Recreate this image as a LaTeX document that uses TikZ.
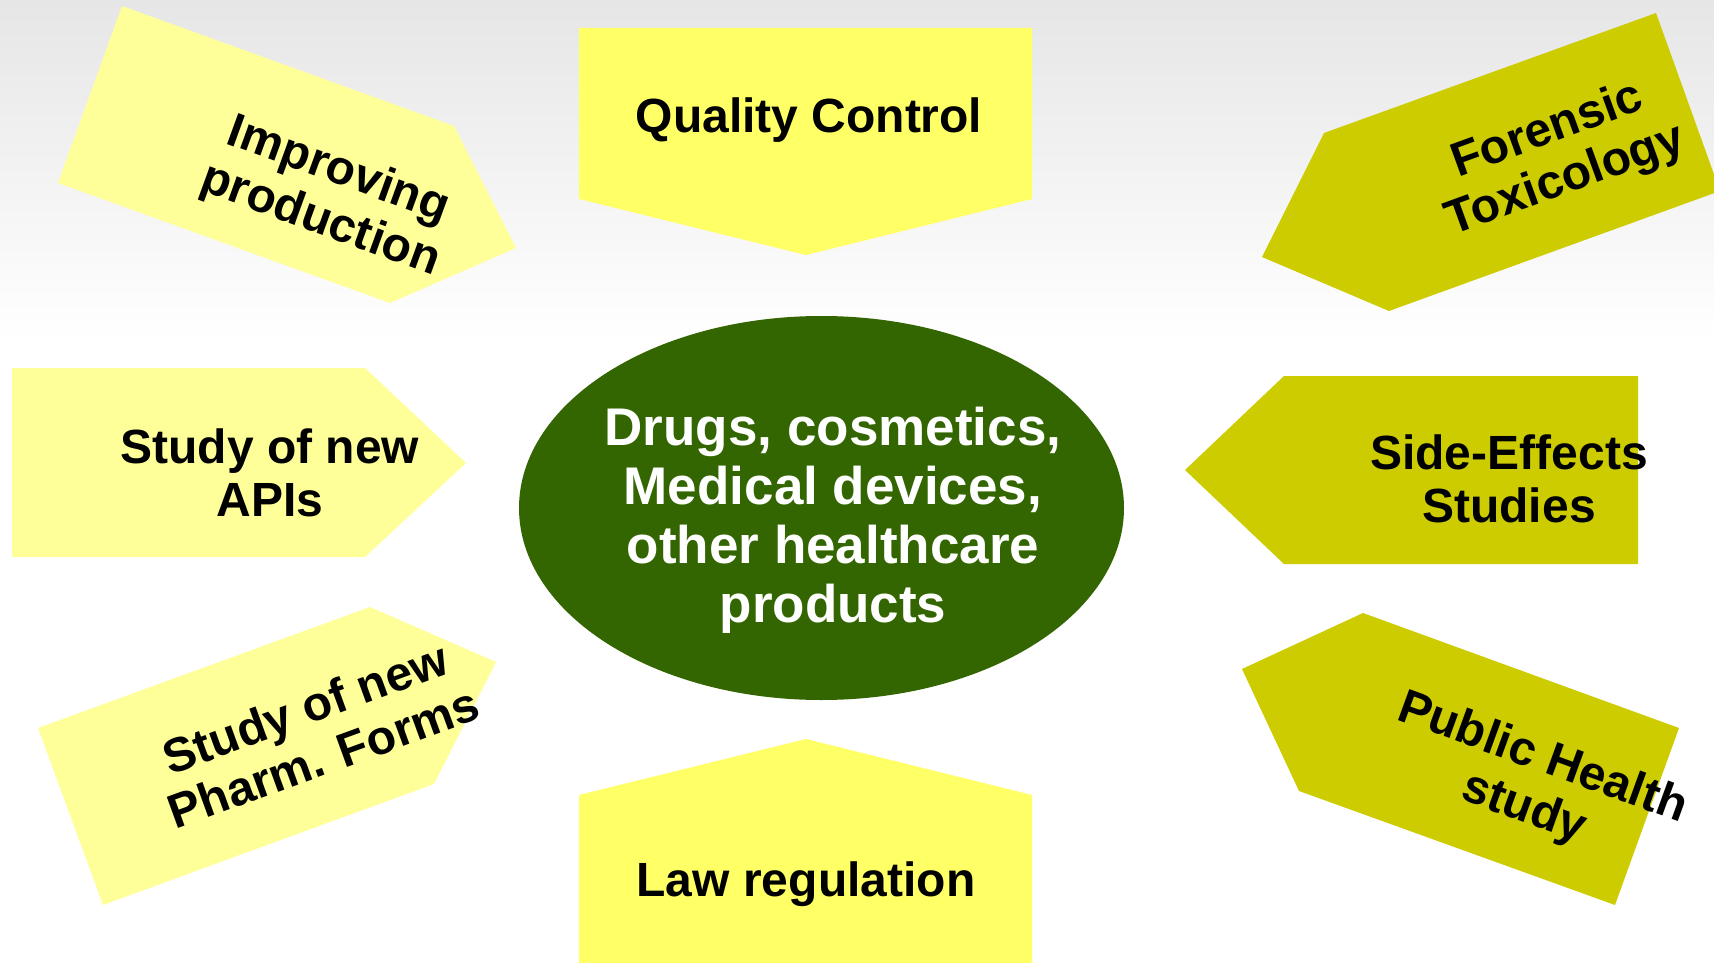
\documentclass[tikz,border=0pt]{standalone}
\usepackage{fontspec}
\setmainfont{Liberation Sans}
\definecolor{paleyel}{HTML}{FFFF99}
\definecolor{brightyel}{HTML}{FFFF66}
\definecolor{oliveyel}{HTML}{CCCC00}
\definecolor{coregreen}{HTML}{336600}
\definecolor{bgtop}{HTML}{E6E6E6}
\newcommand{\stk}[1]{\begin{tabular}[t]{@{}c@{}}#1\end{tabular}}
\begin{document}
\begin{tikzpicture}[x=1pt,y=-1pt,
  lbl/.style={anchor=base, inner sep=0pt, text=black, font=\bfseries\fontsize{48}{53}\selectfont},
  corelbl/.style={anchor=base, inner sep=0pt, text=white, font=\bfseries\fontsize{53}{59}\selectfont},
  pale/.style={fill=paleyel},
  bright/.style={fill=brightyel},
  olv/.style={fill=oliveyel}]
\clip (0,0) rectangle (1714,963);
\fill[white] (0,0) rectangle (1714,963);
\shade[top color=bgtop, bottom color=white] (0,0) rectangle (1714,340);
% left shapes
\fill[pale] (122,6) -- (454,126) -- (516,248) -- (390,303) -- (58,183) -- cycle;
\fill[pale] (12,368) -- (365,368) -- (466,463) -- (365,557) -- (12,557) -- cycle;
\fill[pale] (38,728) -- (370,607) -- (496,662) -- (434,784) -- (103,905) -- cycle;
% top and bottom
\fill[bright] (579,28) -- (1032,28) -- (1032,199) -- (806,255) -- (579,199) -- cycle;
\fill[bright] (579,795) -- (806,739) -- (1032,795) -- (1032,975) -- (579,975) -- cycle;
% right shapes
\fill[olv] (1262,257) -- (1324,133) -- (1656,13) -- (1720,191) -- (1389,311) -- cycle;
\fill[olv] (1185,470) -- (1284,376) -- (1638,376) -- (1638,564) -- (1284,564) -- cycle;
\fill[olv] (1242,669) -- (1363,613) -- (1679,728) -- (1615,905) -- (1299,791) -- cycle;
% core
\fill[coregreen] (821.5,508) ellipse [x radius=302.5, y radius=192];
% labels
\node[lbl] (qc) at (809,133) {Quality Control};
\node[lbl] (law) at (806,896) {Law regulation};
\node[lbl] (apis) at (270,463) {\stk{Study of new\\APIs}};
\node[lbl] (side) at (1509,469) {\stk{Side-Effects\\Studies}};
\node[lbl, rotate=-20] (impr) at (334,183) {\stk{Improving\\production}};
\node[lbl, rotate=20] (foren) at (1552,143) {\stk{Forensic\\Toxicology}};
\node[lbl, rotate=20] (pharm) at (311,724) {\stk{Study of new\\Pharm. Forms}};
\node[lbl, rotate=-20] (pubh) at (1538,771) {\stk{Public Health\\study}};
\node[corelbl] (coretext) at (833,445) {\stk{Drugs, cosmetics,\\Medical devices,\\other healthcare\\products}};
\end{tikzpicture}
\end{document}
